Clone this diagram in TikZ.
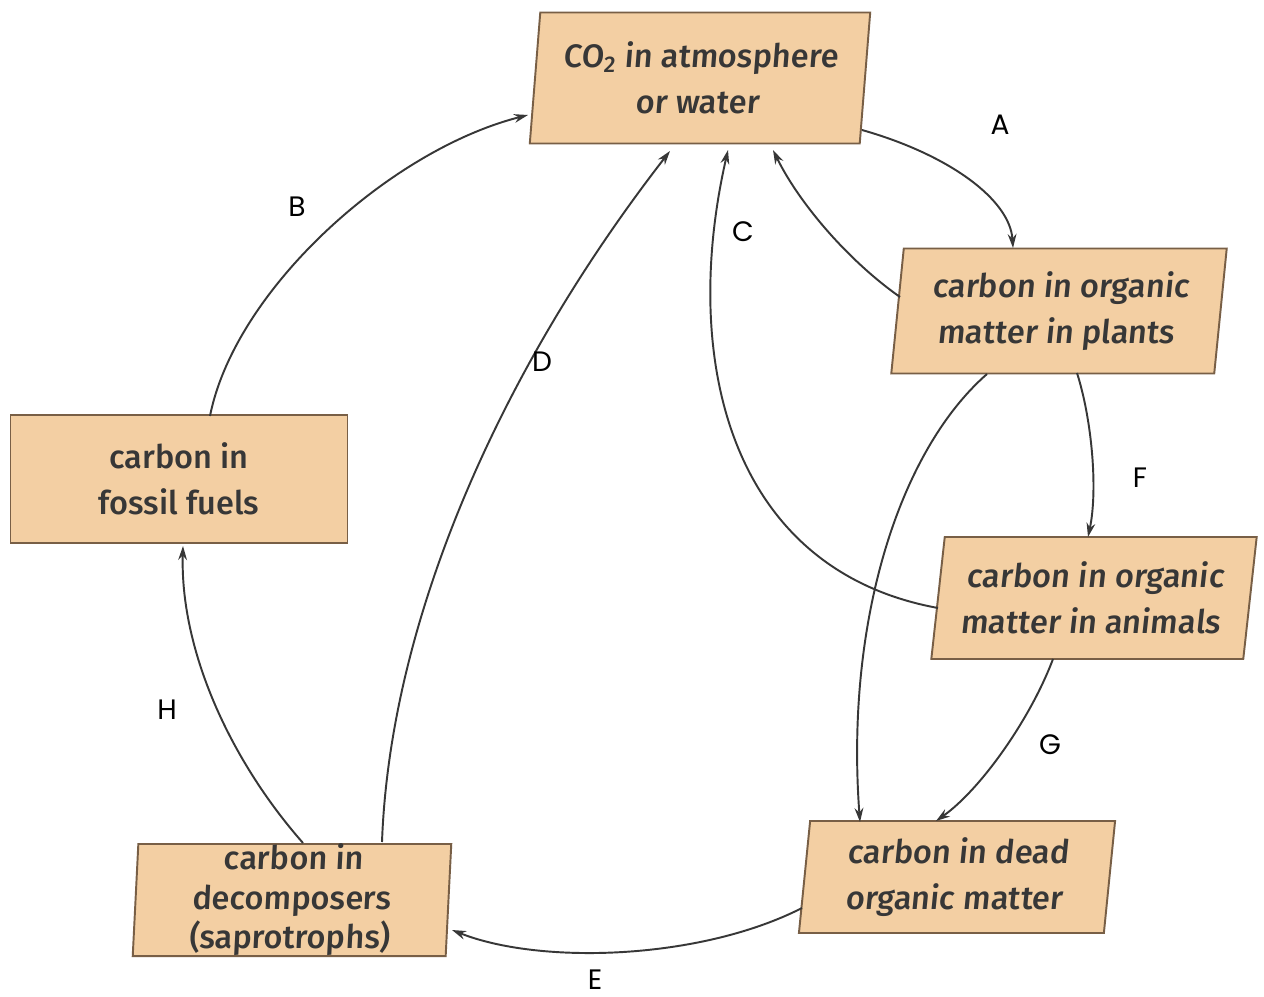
\documentclass[tikz,border=0pt]{standalone}
\usepackage{fontspec}
\setmainfont{Fira Sans}[UprightFont={* Medium}, ItalicFont={* Medium Italic}]
\newfontfamily\letterfont{Poppins}
\usetikzlibrary{calc}
\usetikzlibrary{arrows.meta}
\definecolor{boxtan}{RGB}{243,207,163}
\definecolor{boxedge}{RGB}{120,95,70}
\definecolor{inkgray}{RGB}{55,55,55}
\tikzset{
  cbox/.style={draw=boxedge, line width=1.1pt, fill=boxtan, text=inkgray, align=center,
    font=\fontsize{18.5}{26.5}\selectfont, inner sep=0pt, transform shape},
  flow/.style={draw=inkgray, line width=1.1pt, -{Stealth[length=8pt,width=5pt]}},
  letter/.style={text=black, font=\letterfont\fontsize{16}{16}\selectfont, inner sep=0pt}
}
% name, centre, extra options, width, height, text
\newcommand{\cyclebox}[6]{\node[cbox, #3, minimum width=#4cm, minimum height=#5cm] (#1) at (#2) {#6};}
\newcommand{\steplabel}[3]{\node[letter] (#1) at (#2) {#3};}

\begin{document}
\begin{tikzpicture}[x=0.02cm, y=-0.02cm]
  \useasboundingbox[fill=white] (0,0) rectangle (1264,997);
  % boxes
  \cyclebox{co2}{700,78}{xslant=0.08}{6.6}{2.62}{CO\textsubscript{2} in atmosphere\\or water}
  \cyclebox{plants}{1059,311}{xslant=0.1}{6.46}{2.5}{carbon in organic\\matter in plants}
  \cyclebox{animals}{1094,598}{xslant=0.11}{6.24}{2.44}{carbon in organic\\matter in animals}
  \cyclebox{dead}{957,877}{xslant=0.1}{6.1}{2.24}{carbon in dead\\organic matter}
  \cyclebox{decomp}{292,900}{xslant=0.05, font=\fontsize{18.5}{22.5}\selectfont}{6.26}{2.24}{carbon in\\decomposers\\(saprotrophs)}
  \cyclebox{fossil}{179,479}{xslant=0}{6.74}{2.56}{carbon in\\fossil fuels}
  % arrows
  \draw[flow] ($(co2)+(162,52)$) .. controls (950,155) and (1010,200) .. ($(plants)+(-46,-63)$);
  \draw[flow] ($(fossil)+(31,-63)$) .. controls (235,290) and (390,150) .. ($(co2)+(-172,37)$);
  \draw[flow] ($(plants)+(-159,-14)$) .. controls (850,262) and (800,205) .. ($(co2)+(73,72)$);
  \draw[flow] ($(animals)+(-156,10)$) .. controls (730,570) and (680,360) .. ($(co2)+(28,72)$);
  \draw[flow] ($(decomp)+(90,-58)$) .. controls (390,620) and (500,370) .. ($(co2)+(-30,73)$);
  \draw[flow] ($(plants)+(18,62)$) .. controls (1092,420) and (1098,490) .. ($(animals)+(-6,-61)$);
  \draw[flow] ($(plants)+(-72,63)$) .. controls (900,450) and (845,620) .. ($(dead)+(-97,-55)$);
  \draw[flow] ($(animals)+(-41,61)$) .. controls (1030,720) and (980,790) .. ($(dead)+(-21,-56)$);
  \draw[flow] ($(dead)+(-155,31)$) .. controls (700,960) and (540,965) .. ($(decomp)+(160,30)$);
  \draw[flow] ($(decomp)+(11,-57)$) .. controls (230,760) and (180,650) .. ($(fossil)+(4,67)$);
  % letters
  \steplabel{labA}{1000,125}{A}
  \steplabel{labB}{297,207}{B}
  \steplabel{labC}{743,232}{C}
  \steplabel{labD}{542,362}{D}
  \steplabel{labE}{595,980}{E}
  \steplabel{labF}{1140,478}{F}
  \steplabel{labG}{1050,745}{G}
  \steplabel{labH}{167,710}{H}
\end{tikzpicture}
\end{document}
